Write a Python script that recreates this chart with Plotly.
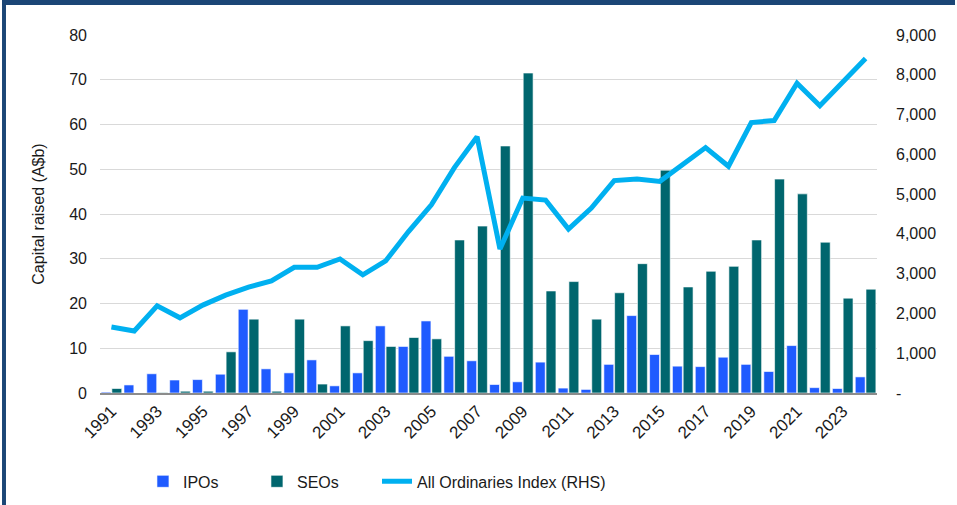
import plotly.graph_objects as go

years = list(range(1991, 2025))

ipos = [0.2, 1.8, 4.3, 2.9, 3.0, 4.2, 18.7, 5.4, 4.5, 7.4,
        1.6, 4.5, 15.0, 10.4, 16.1, 8.2, 7.2, 1.9, 2.5, 6.9,
        1.1, 0.8, 6.4, 17.3, 8.6, 6.0, 5.9, 8.0, 6.4, 4.8,
        10.6, 1.2, 1.0, 3.6]

seos = [1.0, 0.0, 0.1, 0.4, 0.4, 9.2, 16.5, 0.4, 16.5, 2.0,
        15.0, 11.7, 10.4, 12.4, 12.1, 34.2, 37.3, 55.2, 71.5, 22.8,
        24.9, 16.5, 22.4, 28.9, 49.8, 23.7, 27.2, 28.3, 34.2, 47.8,
        44.5, 33.7, 21.2, 23.2]

all_ords = [1660, 1560, 2190, 1890, 2210, 2460, 2660, 2820, 3160, 3160,
            3370, 2970, 3320, 4060, 4730, 5660, 6440, 3620, 4900, 4850,
            4120, 4650, 5340, 5380, 5320, 5730, 6170, 5700, 6800, 6850,
            7790, 7220, 7830, 8410]

rhs_ticks = [0, 1000, 2000, 3000, 4000, 5000, 6000, 7000, 8000, 9000]
rhs_labels = ["-", "1,000", "2,000", "3,000", "4,000", "5,000",
              "6,000", "7,000", "8,000", "9,000"]

FONT = "Liberation Sans, Arial, sans-serif"

fig = go.Figure()

fig.add_trace(go.Bar(
    x=years, y=ipos, name="IPOs",
    marker_color="#1F5BFF",
    marker_line_color="#FFFFFF", marker_line_width=0.6,
))
fig.add_trace(go.Bar(
    x=years, y=seos, name="SEOs",
    marker_color="#00666E",
    marker_line_color="#FFFFFF", marker_line_width=0.6,
))
fig.add_trace(go.Scatter(
    x=years, y=all_ords, name="All Ordinaries Index (RHS)",
    mode="lines", yaxis="y2", legend="legend2",
    line=dict(color="#00B0F0", width=5),
))

# dark blue frame on the top and left edges
fig.add_shape(type="rect", xref="paper", yref="paper",
              x0=-0.1261, x1=-0.1210, y0=-0.40, y1=1.10,
              fillcolor="#1B4676", line_width=0, layer="above")
fig.add_shape(type="rect", xref="paper", yref="paper",
              x0=-0.1261, x1=1.1004, y0=1.084, y1=1.10,
              fillcolor="#1B4676", line_width=0, layer="above")

fig.update_layout(
    width=957, height=505,
    margin=dict(l=100, r=80, t=35, b=112, autoexpand=False),
    paper_bgcolor="white", plot_bgcolor="white",
    font=dict(family=FONT, size=16, color="#1a1a1a"),
    barmode="group", bargap=0.06, bargroupgap=0.08,
    showlegend=True,
    legend=dict(
        orientation="h", x=0.0553, xanchor="left", y=-0.247, yanchor="middle",
        font=dict(size=16), entrywidth=69, entrywidthmode="pixels",
    ),
    legend2=dict(
        orientation="h", x=0.3565, xanchor="left", y=-0.247, yanchor="middle",
        font=dict(size=16),
    ),
    xaxis=dict(
        range=[1990.5, 2024.5], tickmode="linear", tick0=1991, dtick=2,
        tickangle=-45, tickformat="d", showgrid=False,
        showline=True, linecolor="#8c8c8c", linewidth=1.5,
        ticks="", tickfont=dict(size=17),
    ),
    yaxis=dict(
        range=[0, 80], dtick=10, showgrid=True, gridcolor="#D9D9D9",
        gridwidth=1.2, zeroline=False, ticks="", ticklabelstandoff=12,
        title=dict(text="Capital raised (A$b)", font=dict(size=16), standoff=20),
        tickfont=dict(size=16),
    ),
    yaxis2=dict(
        range=[0, 9000], overlaying="y", side="right",
        tickmode="array", tickvals=rhs_ticks, ticktext=rhs_labels,
        showgrid=False, zeroline=False, ticks="", ticklabelstandoff=18,
        tickfont=dict(size=16),
    ),
)

# the page body has an 8px default margin; drop it so the figure fills the window
fig.write_html("out.html", config={"displayModeBar": False},
               post_script="document.body.style.margin='0';")
